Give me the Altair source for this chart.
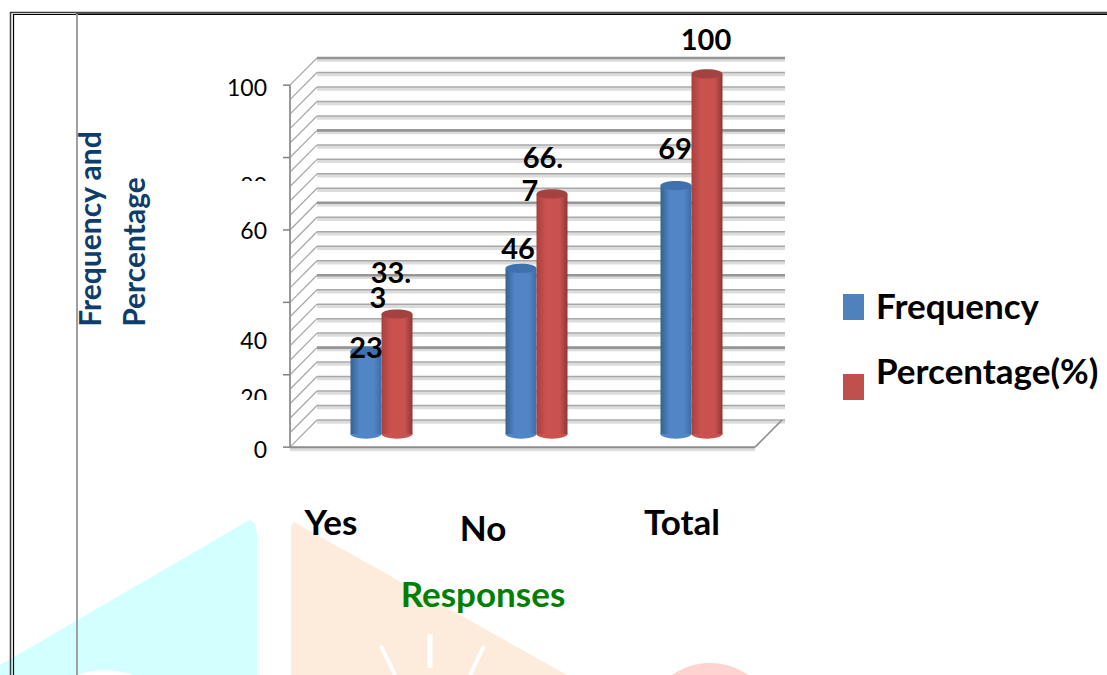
import altair as alt
import pandas as pd

# Survey results
categories = ["Yes", "No", "Total"]
frequency = [23, 46, 69]
percentage = [33.3, 66.7, 100]
wall_levels = [0, 4, 8, 12, 16, 20, 24, 28, 32, 36, 40, 44, 48, 52, 56, 60, 64, 68, 72, 76,
               80, 84, 88, 92, 96, 100]
major_levels = [0, 20, 40, 60, 80, 100]
tick_labels = ["0", "20", "40", "60", "80", "100"]

FONT = "Lato"
W, H = 1107, 675
DEPTH = 7.5  # front-to-back offset of the box, in wall units

page_x = alt.Scale(domain=[0, W], range=[0, W])
page_y = alt.Scale(domain=[0, H], range=[0, H])
wall_y = alt.Scale(domain=[0, 100], range=[420, 58])
bar_y = alt.Scale(domain=[0, 100], range=[434, 74])
# The tick labels sit unevenly next to the axis
label_y = alt.Scale(domain=major_levels, range=[451, 399, 342, 232, 187, 89])
cat_x = alt.Scale(type="point", domain=categories, range=[381.5, 691.5], padding=0)
series_x = alt.Scale(type="point", domain=["Frequency", "Percentage"], range=[-15.5, 15.5], padding=0)

bars = pd.DataFrame(
    {
        "category": categories * 2,
        "series": ["Frequency"] * 3 + ["Percentage"] * 3,
        "value": frequency + percentage,
    }
)
wall = pd.DataFrame({"level": wall_levels})
wall["front"] = wall["level"] - DEPTH
major = pd.DataFrame({"level": major_levels, "label": tick_labels})
major["front"] = major["level"] - DEPTH


def page_layer(rows, mark):
    return alt.Chart(pd.DataFrame(rows)).mark_area(**mark).encode(
        x=alt.X("x:Q", scale=page_x, axis=None),
        y=alt.Y("top:Q", scale=page_y, axis=None),
        y2="bottom:Q",
    )


def segment(x1, y1, x2, y2, color, width):
    row = pd.DataFrame({"x": [x1], "x2": [x2], "y": [y1], "y2": [y2]})
    return alt.Chart(row).mark_rule(color=color, strokeWidth=width).encode(
        x=alt.X("x:Q", scale=page_x, axis=None),
        x2="x2:Q",
        y=alt.Y("y:Q", scale=page_y, axis=None),
        y2="y2:Q",
    )


def disc(cx, cy, radius, color):
    row = pd.DataFrame({"x": [cx], "y": [cy]})
    return alt.Chart(row).mark_point(
        filled=True, shape="circle", size=4 * radius**2, color=color, opacity=1
    ).encode(
        x=alt.X("x:Q", scale=page_x, axis=None),
        y=alt.Y("y:Q", scale=page_y, axis=None),
    )


def box(x1, y1, x2, y2, color):
    row = pd.DataFrame({"x": [x1], "x2": [x2], "y": [y1], "y2": [y2]})
    return alt.Chart(row).mark_rect(color=color).encode(
        x=alt.X("x:Q", scale=page_x, axis=None),
        x2="x2:Q",
        y=alt.Y("y:Q", scale=page_y, axis=None),
        y2="y2:Q",
    )


def caption(text, x, y, size=35, color="#000000", weight="bold", angle=0, align="center"):
    row = pd.DataFrame({"x": [x], "y": [y], "t": [text]})
    return alt.Chart(row).mark_text(
        font=FONT, fontSize=size, fontWeight=weight, color=color, angle=angle,
        align=align, baseline="middle",
    ).encode(
        x=alt.X("x:Q", scale=page_x, axis=None),
        y=alt.Y("y:Q", scale=page_y, axis=None),
        text="t:N",
    )


def cylinder(series, edge_l, mid, edge_r, cap, foot):
    rows = bars[bars["series"] == series]
    body_fill = alt.Gradient(
        gradient="linear", x1=0, x2=1, y1=0, y2=0,
        stops=[
            alt.GradientStop(offset=0, color=edge_l),
            alt.GradientStop(offset=0.3, color=mid),
            alt.GradientStop(offset=0.75, color=mid),
            alt.GradientStop(offset=1, color=edge_r),
        ],
    )
    ellipse = "M-1,0 A1,0.3 0 1,1 1,0 A1,0.3 0 1,1 -1,0 Z"
    place = dict(
        x=alt.X("category:N", scale=cat_x, axis=None),
        xOffset=alt.XOffset("series:N", scale=series_x),
    )
    base = alt.Chart(rows.assign(zero=0))
    bottom = base.mark_point(
        filled=True, shape=ellipse, size=961, fill=foot, opacity=1, strokeWidth=0
    ).encode(y=alt.Y("zero:Q", scale=bar_y, axis=None), **place)
    body = base.mark_bar(size=31, fill=body_fill).encode(
        y=alt.Y("value:Q", scale=bar_y, axis=None, stack=None),
        y2="zero:Q",
        **place,
    )
    top = base.mark_point(
        filled=True, shape=ellipse, size=961, fill=cap, opacity=1, strokeWidth=0
    ).encode(y=alt.Y("value:Q", scale=bar_y, axis=None), **place)
    return [bottom, body, top]


def value_label(category, series, value, text, dx, dy):
    row = pd.DataFrame({"category": [category], "series": [series], "value": [value], "t": [text]})
    return alt.Chart(row).mark_text(
        font=FONT, fontSize=29, fontWeight="bold", color="#000000",
        align="center", baseline="middle", dx=dx, dy=dy,
    ).encode(
        x=alt.X("category:N", scale=cat_x, axis=None),
        xOffset=alt.XOffset("series:N", scale=series_x),
        y=alt.Y("value:Q", scale=bar_y, axis=None),
        text="t:N",
    )


layers = []

# Faint page watermark
layers.append(page_layer(
    [
        {"x": 0, "top": 665, "bottom": H},
        {"x": 246, "top": 522, "bottom": H},
        {"x": 250, "top": 520, "bottom": H},
        {"x": 255, "top": 524, "bottom": H},
        {"x": 257, "top": 535, "bottom": H},
    ],
    {"color": "#d2ffff", "opacity": 1},
))
layers.append(disc(105, 751, 81, "#ffffff"))
layers.append(page_layer(
    [
        {"x": 291, "top": 526, "bottom": H},
        {"x": 294, "top": 522, "bottom": H},
        {"x": 567, "top": H, "bottom": H},
    ],
    {"color": "#fdecdc", "opacity": 1},
))
layers.append(segment(430, 634, 430, 668, "#ffffff", 5))
layers.append(segment(381, 646, 395, 675, "#ffffff", 4))
layers.append(segment(484, 646, 470, 675, "#ffffff", 4))
layers.append(disc(710, 729, 66, "#ffd3cf"))

# Page frame
layers.append(segment(10, 12.5, W, 12.5, "#3a3a3a", 1.5))
layers.append(segment(76, 13.5, W, 13.5, "#555555", 2))
layers.append(segment(13, 14.5, W, 14.5, "#000000", 1.2))
layers.append(segment(10.5, 12, 10.5, H, "#3a3a3a", 1.5))
layers.append(segment(13.5, 14, 13.5, H, "#000000", 1.2))
layers.append(segment(77, 14, 77, H, "#a0a0a0", 2))

# Back wall, side wall and floor of the 3-D box
grid_x = alt.X("x0:Q", scale=page_x, axis=None)
wall_rows = wall.assign(x0=317, x1=785)
layers.append(alt.Chart(wall_rows).mark_rule(color="#dcdcdc", strokeWidth=3.5, yOffset=2).encode(
    x=grid_x, x2="x1:Q", y=alt.Y("level:Q", scale=wall_y, axis=None)))
layers.append(alt.Chart(wall_rows).mark_rule(color="#a8a8a8", strokeWidth=1.5).encode(
    x=grid_x, x2="x1:Q", y=alt.Y("level:Q", scale=wall_y, axis=None)))
major_rows = major.assign(x0=317, x1=785)
layers.append(alt.Chart(major_rows[major_rows["level"] > 0]).mark_rule(color="#969696", strokeWidth=2.6).encode(
    x=grid_x, x2="x1:Q", y=alt.Y("level:Q", scale=wall_y, axis=None)))
side_rows = wall.assign(x0=290, x1=317)
layers.append(alt.Chart(side_rows).mark_rule(color="#a8a8a8", strokeWidth=1.3).encode(
    x=grid_x, x2="x1:Q", y=alt.Y("front:Q", scale=wall_y, axis=None), y2="level:Q"))
layers.append(alt.Chart(pd.DataFrame({"x0": [290], "a": [-DEPTH], "b": [100 - DEPTH]})).mark_rule(
    color="#999999", strokeWidth=2).encode(x=grid_x, y=alt.Y("a:Q", scale=wall_y, axis=None), y2="b:Q"))
tick_rows = major.assign(x0=283, x1=290)
layers.append(alt.Chart(tick_rows).mark_rule(color="#808080", strokeWidth=1.5).encode(
    x=grid_x, x2="x1:Q", y=alt.Y("front:Q", scale=wall_y, axis=None)))
floor = pd.DataFrame({"x0": [290], "x1": [755], "level": [-DEPTH]})
layers.append(alt.Chart(floor).mark_rule(color="#dddddd", strokeWidth=4, yOffset=2).encode(
    x=grid_x, x2="x1:Q", y=alt.Y("level:Q", scale=wall_y, axis=None)))
layers.append(alt.Chart(floor).mark_rule(color="#8c8c8c", strokeWidth=2).encode(
    x=grid_x, x2="x1:Q", y=alt.Y("level:Q", scale=wall_y, axis=None)))
floor_side = pd.DataFrame({"x0": [755], "x1": [782], "a": [-DEPTH], "b": [0]})
layers.append(alt.Chart(floor_side).mark_rule(color="#8c8c8c", strokeWidth=1.6).encode(
    x=grid_x, x2="x1:Q", y=alt.Y("a:Q", scale=wall_y, axis=None), y2="b:Q"))

# Tick labels, two of them partly hidden by the white boxes drawn after them
layers.append(alt.Chart(major).mark_text(
    font=FONT, fontSize=23, color="#000000", align="right", baseline="middle"
).encode(
    x=alt.value(267),
    y=alt.Y("level:Q", scale=label_y, axis=None),
    text="label:N",
))
layers.append(box(225, 181, 281, 206, "#ffffff"))
layers.append(box(225, 400, 281, 422, "#ffffff"))

# Cylinders
layers += cylinder("Frequency", "#34628f", "#5185c6", "#3a6ea8", "#3f72ad", "#5185c6")
layers += cylinder("Percentage", "#a8403d", "#c9524f", "#8f3735", "#a34240", "#c9524f")

# Value labels
layers.append(value_label("Yes", "Frequency", 23, "23", 0, -2))
layers.append(value_label("Yes", "Percentage", 33.3, "33.", -6, -40))
layers.append(value_label("Yes", "Percentage", 33.3, "3", -19, -15))
layers.append(value_label("No", "Frequency", 46, "46", -3, -18))
layers.append(value_label("No", "Percentage", 66.7, "66.", -9, -35))
layers.append(value_label("No", "Percentage", 66.7, "7", -22, -2))
layers.append(value_label("Total", "Frequency", 69, "69", -1, -36))
layers.append(value_label("Total", "Percentage", 100, "100", -1, -33))

# Category labels and axis titles
layers.append(caption("Yes", 331, 524))
layers.append(caption("No", 483, 530))
layers.append(caption("Total", 682, 524))
layers.append(caption("Responses", 483, 596, color="#008000"))
layers.append(caption("Frequency and", 92, 229, size=30, color="#0f3d6b", angle=270))
layers.append(caption("Percentage", 136, 252, size=30, color="#0f3d6b", angle=270))

# Legend
layers.append(box(843, 294, 864, 320, "#4f81bd"))
layers.append(box(843, 374, 864, 400, "#c0504d"))
layers.append(caption("Frequency", 876, 308, align="left"))
layers.append(caption("Percentage(%)", 876, 373, align="left"))

chart = (
    alt.layer(*layers)
    .resolve_scale(x="independent", y="independent")
    .properties(width=W, height=H, padding=0, autosize=alt.AutoSizeParams(type="none"), background="#ffffff")
    .configure_view(stroke=None)
)

chart.save("out.html", embed_options={"renderer": "svg", "actions": False})
